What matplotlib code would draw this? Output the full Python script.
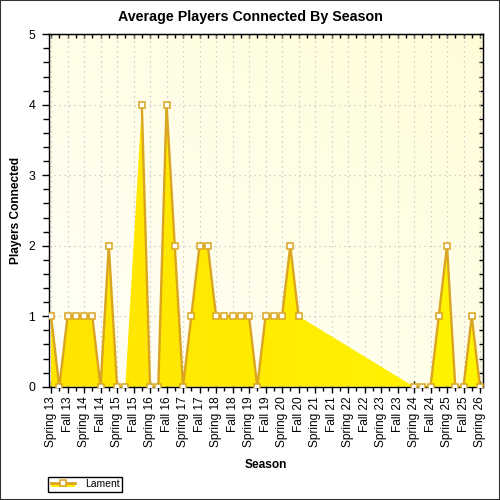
import numpy as np
import matplotlib
matplotlib.use('Agg')
import matplotlib.pyplot as plt
from matplotlib.patches import PathPatch, Rectangle
from matplotlib.lines import Line2D
from matplotlib.colors import LinearSegmentedColormap
from matplotlib.legend_handler import HandlerBase

# ---------------- data ----------------
season_labels = ["Spring 13", "Fall 13", "Spring 14", "Fall 14", "Spring 15", "Fall 15",
                 "Spring 16", "Fall 16", "Spring 17", "Fall 17", "Spring 18", "Fall 18",
                 "Spring 19", "Fall 19", "Spring 20", "Fall 20", "Spring 21", "Fall 21",
                 "Spring 22", "Fall 22", "Spring 23", "Fall 23", "Spring 24", "Fall 24",
                 "Spring 25", "Fall 25", "Spring 26"]
# quarter offsets from Spring 13 (season labels sit on every second quarter)
quarter = [0, 1, 2, 3, 4, 5, 6, 7, 8, 9, 11, 12, 13, 14, 15, 16, 17, 18, 19, 20,
           21, 22, 23, 24, 25, 26, 27, 28, 29, 30, 44, 45, 46, 47, 48, 49, 50, 51, 52]
players = [1, 0, 1, 1, 1, 1, 0, 2, 0, 0, 4, 0, 0, 4, 2, 0, 1, 2, 2, 1,
           1, 1, 1, 1, 0, 1, 1, 1, 2, 1, 0, 0, 0, 1, 2, 0, 0, 1, 0]
series_name = "Lament"

# ---------------- style ----------------
plt.rcParams['font.family'] = ['Liberation Sans', 'DejaVu Sans']
LINE = '#DAA520'
XMIN, XMAX = -0.25, 52.4
YMIN, YMAX = 0, 5

fig = plt.figure(figsize=(5, 5), dpi=100)
fig.patch.set_facecolor('white')
ax = fig.add_axes([0.098, 0.2266, 0.8686, 0.7048])

# background gradient of the plot area
gx, gy = np.meshgrid(np.linspace(0, 1, 200), np.linspace(0, 1, 200))
bg_cmap = LinearSegmentedColormap.from_list('bg', ['#FFFFF7', '#FFFDD8'])
ax.imshow((gx + gy) / 2, extent=[XMIN, XMAX, YMIN, YMAX], origin='lower',
          aspect='auto', cmap=bg_cmap, vmin=0, vmax=1, zorder=0, interpolation='bilinear')

q = np.array(quarter, dtype=float)
v = np.array(players, dtype=float)

# area with horizontal gradient
fb = ax.fill_between(q, v, 0, facecolor='none', edgecolor='none')
clip = PathPatch(fb.get_paths()[0], transform=ax.transData, facecolor='none', edgecolor='none')
ax.add_patch(clip)
fill_cmap = LinearSegmentedColormap.from_list('fill', ['#FFE400', '#FFF400'])
im = ax.imshow(np.linspace(0, 1, 256).reshape(1, -1), extent=[XMIN, XMAX, YMIN, YMAX],
               origin='lower', aspect='auto', cmap=fill_cmap, zorder=2, interpolation='bilinear')
im.set_clip_path(clip)

# line broken at gaps
lx, ly = [], []
for k in range(len(q)):
    if k > 0 and q[k] - q[k - 1] > 1:
        lx.append(np.nan)
        ly.append(np.nan)
    lx.append(q[k])
    ly.append(v[k])
ax.plot(lx, ly, color=LINE, lw=1.7, zorder=3)
ax.plot(q, v, linestyle='none', marker='s', ms=4.6, mfc='white', mec=LINE, mew=1.1, zorder=4)

ax.set_xlim(XMIN, XMAX)
ax.set_ylim(YMIN, YMAX)

# ticks
ax.set_xticks(np.arange(0, 53, 2))
ax.set_xticklabels(season_labels, rotation=90)
ax.set_xticks(np.arange(1, 53, 2), minor=True)
ax.tick_params(axis='x', which='major', direction='inout', length=8, width=1, pad=3, labelsize=8.6)
ax.tick_params(axis='x', which='minor', direction='out', length=3, width=1)
ax.set_yticks(np.arange(0, 6, 1))
ax.set_yticks(np.arange(0, 5.01, 0.2), minor=True)
ax.tick_params(axis='y', which='major', direction='out', length=5, width=1, pad=5, labelsize=8.8)
ax.tick_params(axis='y', which='minor', direction='out', length=4, width=1)

secx = ax.secondary_xaxis('top')
secx.set_xticks(np.arange(0, 53, 1))
secx.set_xticklabels([])
secx.tick_params(direction='in', length=3, width=1)
secy = ax.secondary_yaxis('right')
secy.set_yticks(np.arange(0, 5.01, 0.2))
secy.set_yticklabels([])
secy.tick_params(direction='in', length=3, width=1)

ax.set_axisbelow(True)
ax.grid(True, which='major', color='#C4C4C4', linestyle=(0, (1, 3)), linewidth=0.9)
for s in ax.spines.values():
    s.set_color('black')
    s.set_linewidth(1)

# texts
fig.text(0.5, 0.966, "Average Players Connected By Season", ha='center', va='center',
         fontsize=10.3, fontweight='bold')
fig.text(0.032, 0.58, "Players Connected", rotation=90, ha='center', va='center',
         fontsize=8.6, fontweight='bold')
fig.text(0.532, 0.07, "Season", ha='center', va='center', fontsize=8.6, fontweight='bold')


# legend
class AreaLineHandler(HandlerBase):
    def create_artists(self, legend, orig_handle, xdescent, ydescent, width, height, fontsize, trans):
        x0, y0 = -xdescent, -ydescent
        r = Rectangle((x0, y0), width, height * 0.6, facecolor='#FFEE00', edgecolor='none', transform=trans)
        ln = Line2D([x0, x0 + width], [y0 + height * 0.6] * 2, color=LINE, lw=2, transform=trans)
        mk = Line2D([x0 + width / 2], [y0 + height * 0.6], marker='s', ms=4.6, mfc='white',
                    mec=LINE, mew=1.1, linestyle='none', transform=trans)
        return [r, ln, mk]


handle = Line2D([], [])
leg = fig.legend(handles=[handle], labels=[series_name], handler_map={handle: AreaLineHandler()},
                 loc='lower left', bbox_to_anchor=(0.096, 0.016), fontsize=7.5, frameon=True,
                 fancybox=False, edgecolor='black', borderpad=0.25, handlelength=2.3,
                 handletextpad=1.0, borderaxespad=0)
leg.get_frame().set_linewidth(1)
leg.get_frame().set_alpha(1)

fig.add_artist(Rectangle((0, 0), 1, 1, transform=fig.transFigure, fill=False,
                         edgecolor='#333333', lw=1.5))

fig.savefig('out.png', dpi=100)
